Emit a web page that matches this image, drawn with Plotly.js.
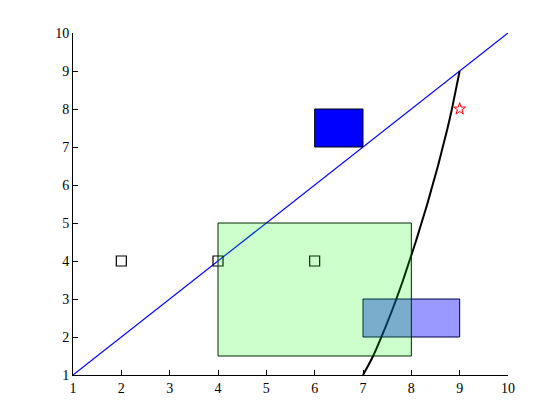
<!DOCTYPE html>
<html>
<head>
<script src="https://cdn.plot.ly/plotly-3.0.1.min.js"></script>
<style>body{margin:0;padding:0;background:#fff}#chart{width:560px;height:420px}</style>
</head>
<body>
<div id="chart"></div>
<script>
// Diagonal line
var lineX = [1, 10];
var lineY = [1, 10];
// Curve
var curveY = [1, 1.5, 2, 2.5, 3, 3.5, 4, 4.5, 5, 5.5, 6, 6.5, 7, 7.5, 8, 8.5, 9];
var curveX = [7.0, 7.21, 7.38, 7.54, 7.69, 7.83, 7.96, 8.09, 8.21, 8.33, 8.44, 8.55, 8.65, 8.75, 8.84, 8.92, 9.0];
// Square markers
var squareX = [2, 4, 6];
var squareY = [4, 4, 4];
// Star marker
var starX = [9];
var starY = [8];
// Rectangles: [x0, x1, y0, y1] (drawn in this order)
var rectX0 = [7, 4, 6];
var rectX1 = [9, 8, 7];
var rectY0 = [2, 1.5, 7];
var rectY1 = [3, 5, 8];
var rectFill = ['rgba(0,0,255,0.4)', 'rgba(0,255,0,0.2)', 'rgb(0,0,255)'];
var rectEdge = ['rgb(0,0,70)', 'rgb(0,40,0)', 'rgb(0,0,0)'];

var shapes = rectX0.map(function(x0, i){
  return {type:'rect', xref:'x', yref:'y', x0:x0, x1:rectX1[i], y0:rectY0[i], y1:rectY1[i],
          fillcolor:rectFill[i], line:{color:rectEdge[i], width:1}, layer:'above'};
});

var traces = [
  {x:lineX, y:lineY, mode:'lines', line:{color:'rgb(0,0,255)', width:1.2}, hoverinfo:'none'},
  {x:curveX, y:curveY, mode:'lines', line:{color:'black', width:2, shape:'spline', smoothing:1}, hoverinfo:'none'},
  {x:squareX, y:squareY, mode:'markers', marker:{symbol:'square-open', size:10, color:'black', line:{width:1.2}}, hoverinfo:'none'},
  {x:starX, y:starY, mode:'markers', marker:{symbol:'star-open', size:9, color:'red', line:{width:1}}, hoverinfo:'none'}
];

var axisCommon = {
  range:[1,10], dtick:1, tick0:1, showgrid:false, zeroline:false,
  showline:true, linecolor:'black', linewidth:1, mirror:false,
  ticks:'inside', ticklen:5, tickcolor:'black', tickwidth:1,
  tickfont:{family:'"Liberation Serif", serif', size:14, color:'black'}
};

var layout = {
  width:560, height:420,
  margin:{l:73, r:52, t:33, b:45},
  paper_bgcolor:'white', plot_bgcolor:'white',
  showlegend:false,
  xaxis:Object.assign({}, axisCommon),
  yaxis:Object.assign({}, axisCommon),
  shapes:shapes
};

Plotly.newPlot('chart', traces, layout, {staticPlot:true, displayModeBar:false});
</script>
</body>
</html>
